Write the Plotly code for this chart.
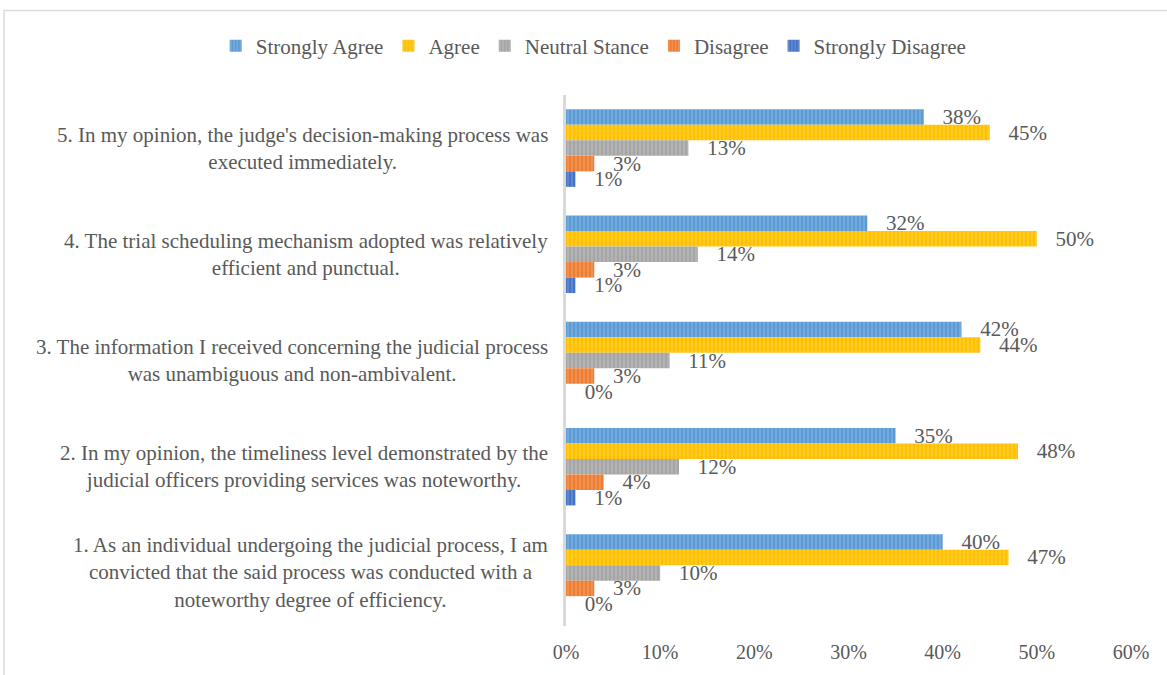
import plotly.graph_objects as go

categories = [
    "5. In my opinion, the judge's decision-making process was<br>executed immediately.",
    "4. The trial scheduling mechanism adopted was relatively<br>efficient and punctual.",
    "3. The information I received concerning the judicial process<br>was unambiguous and non-ambivalent.",
    "2. In my opinion, the timeliness level demonstrated by the<br>judicial officers providing services was noteworthy.",
    "1. As an individual undergoing the judicial process, I am<br>convicted that the said process was conducted with a<br>noteworthy degree of efficiency.",
]
series_names = ["Strongly Agree", "Agree", "Neutral Stance", "Disagree", "Strongly Disagree"]
strongly_agree = [38, 32, 42, 35, 40]
agree = [45, 50, 44, 48, 47]
neutral = [13, 14, 11, 12, 10]
disagree = [3, 3, 3, 4, 3]
strongly_disagree = [1, 1, 0, 1, 0]
series_values = [strongly_agree, agree, neutral, disagree, strongly_disagree]
colors = ["#5B9BD5", "#FFC000", "#A5A5A5", "#ED7D31", "#4472C4"]
x_ticks = [0, 10, 20, 30, 40, 50, 60]
x_ticklabels = ["0%", "10%", "20%", "30%", "40%", "50%", "60%"]

FONT = "Liberation Serif, Times New Roman, serif"
GRAY = "#595959"

fig = go.Figure()
for name, vals, col in zip(series_names, series_values, colors):
    fig.add_trace(go.Bar(
        y=categories, x=vals, name=name, orientation="h",
        marker=dict(color=col, line=dict(width=0),
                    pattern=dict(shape="|", fgcolor="rgba(255,255,255,0.5)",
                                 size=4, solidity=0.3, fillmode="overlay")),
        text=[f"{v}%" for v in vals],
        texttemplate="   %{text}",
        textposition="outside",
        textfont=dict(family=FONT, size=21, color=GRAY),
        constraintext="none",
        cliponaxis=False,
    ))

annotations = []
for c in categories:
    annotations.append(dict(
        x=0, xref="paper", y=c, yref="y", xanchor="right", xshift=-16,
        text=c, showarrow=False, align="center",
        font=dict(family=FONT, size=21, color=GRAY),
    ))

fig.update_layout(
    barmode="group", bargap=0.27, bargroupgap=0.0,
    width=1167, height=675,
    margin=dict(l=566, r=36, t=95, b=47),
    paper_bgcolor="white", plot_bgcolor="white",
    font=dict(family=FONT, size=20, color=GRAY),
    showlegend=True,
    legend=dict(orientation="h", xref="paper", yref="paper",
                x=-0.62, y=1.092, xanchor="left", yanchor="middle",
                font=dict(family=FONT, size=21, color=GRAY),
                itemwidth=30, traceorder="normal"),
    annotations=annotations,
    shapes=[dict(type="rect", xref="paper", yref="paper",
                 x0=-0.9947, x1=1.2, y0=-0.2, y1=1.159,
                 line=dict(color="#D9D9D9", width=1.5))],
)
fig.update_yaxes(type="category", autorange="reversed", showticklabels=False,
                 showline=True, linecolor="#D9D9D9", linewidth=3,
                 showgrid=False, zeroline=False, ticks="")
fig.update_xaxes(range=[0, 60], tickvals=x_ticks, ticktext=x_ticklabels,
                 showgrid=False, zeroline=False, showline=False, ticks="",
                 tickfont=dict(family=FONT, size=20, color=GRAY),
                 ticklabelstandoff=12)

fig.write_html("out.html")
